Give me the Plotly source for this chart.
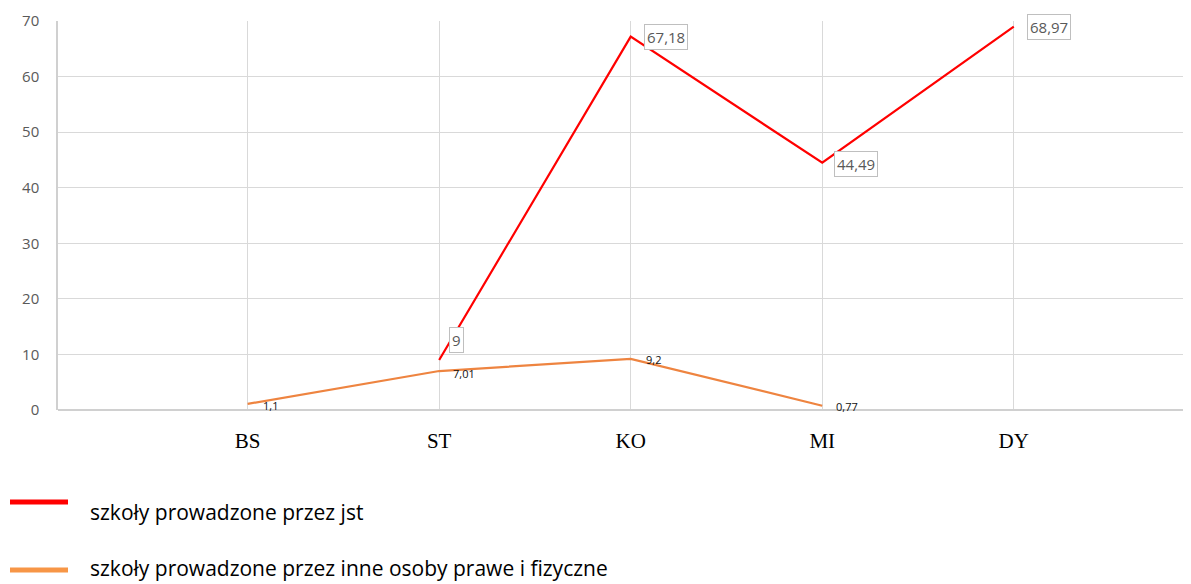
import plotly.graph_objects as go

categories = ["BS", "ST", "KO", "MI", "DY"]
jst_values = [None, 9, 67.18, 44.49, 68.97]
inne_values = [1.1, 7.01, 9.2, 0.77, None]
y_ticks = [0, 10, 20, 30, 40, 50, 60, 70]
series_names = ["szkoły prowadzone przez jst",
                "szkoły prowadzone przez inne osoby prawe i fizyczne"]

RED = "#FF0000"
ORANGE = "#EE8440"
ORANGE_LEG = "#F79646"
SANS = "Open Sans, Noto Sans, sans-serif"

# the page body has an 8px default margin, so work in screen pixels minus 8
OFF = 8
W, H = 1191 - OFF, 584 - OFF
PL, PT, PR, PB = 58, 21, 1190, 410  # plot area in screen pixels
L, T = PL - OFF, PT - OFF
R = W - (PR - OFF)
B = H - (PB - OFF)
PW = W - L - R
PH = H - T - B


def fmt(v):
    return f"{v:g}".replace(".", ",")


fig = go.Figure()
fig.add_trace(go.Scatter(x=categories, y=jst_values, mode="lines",
                         line=dict(color=RED, width=2.2), name=series_names[0],
                         showlegend=False))
fig.add_trace(go.Scatter(x=categories, y=inne_values, mode="lines",
                         line=dict(color=ORANGE, width=2.2), name=series_names[1],
                         showlegend=False))

annotations = []
box_offsets = {"ST": (17, 20), "KO": (35, 0), "MI": (34, -1), "DY": (35, 0)}
for c, v in zip(categories, jst_values):
    if v is None:
        continue
    dx, dy = box_offsets[c]
    annotations.append(dict(x=c, y=v, xref="x", yref="y", text=fmt(v),
                            showarrow=False, xshift=dx, yshift=dy,
                            font=dict(family=SANS, size=15, color="#595959"),
                            bordercolor="#BFBFBF", borderwidth=1, borderpad=2,
                            bgcolor="white"))
small_offsets = {"BS": (23, -2), "ST": (25, -2), "KO": (23, -1), "MI": (25, -1)}
for c, v in zip(categories, inne_values):
    if v is None:
        continue
    dx, dy = small_offsets[c]
    annotations.append(dict(x=c, y=v, xref="x", yref="y", text=fmt(v),
                            showarrow=False, xshift=dx, yshift=dy,
                            font=dict(family=SANS, size=11, color="#111111")))


def px_to_paper_x(px):
    return (px - OFF - L) / PW


def px_to_paper_y(py):
    return (H - B - (py - OFF)) / PH


shapes = []
# legend swatches
for col, ly in [(RED, 502), (ORANGE_LEG, 570)]:
    shapes.append(dict(type="line", xref="paper", yref="paper",
                       x0=px_to_paper_x(10), x1=px_to_paper_x(68),
                       y0=px_to_paper_y(ly), y1=px_to_paper_y(ly),
                       line=dict(color=col, width=5)))
annotations.append(dict(x=px_to_paper_x(88), y=px_to_paper_y(512), xref="paper", yref="paper",
                        text=series_names[0], showarrow=False, xanchor="left", yanchor="middle",
                        font=dict(family=SANS, size=21, color="#000000")))
annotations.append(dict(x=px_to_paper_x(88), y=px_to_paper_y(584), xref="paper", yref="paper",
                        text=series_names[1], showarrow=False, xanchor="left", yanchor="bottom",
                        font=dict(family=SANS, size=21, color="#000000")))

fig.update_layout(
    width=W, height=H,
    margin=dict(l=L, r=R, t=T, b=B, pad=0),
    plot_bgcolor="white", paper_bgcolor="white",
    annotations=annotations, shapes=shapes,
    showlegend=False,
)
fig.update_xaxes(type="category", categoryorder="array", categoryarray=categories,
                 range=[-0.99, 4.92], showgrid=True, gridcolor="#D9D9D9", gridwidth=1,
                 showline=False, zeroline=False, ticks="", automargin=False,
                 tickfont=dict(family="Liberation Serif, Times New Roman, serif", size=21, color="#000000"),
                 ticklabelstandoff=16)
fig.update_yaxes(range=[0, 70], tickvals=y_ticks, showgrid=True, gridcolor="#D9D9D9", gridwidth=1,
                 showline=True, linecolor="#D0D0D0", linewidth=1.5, zeroline=True,
                 zerolinecolor="#D0D0D0", zerolinewidth=1.5, ticks="", automargin=False,
                 tickfont=dict(family=SANS, size=15, color="#595959"),
                 ticklabelstandoff=14)

fig.write_html("out.html")
